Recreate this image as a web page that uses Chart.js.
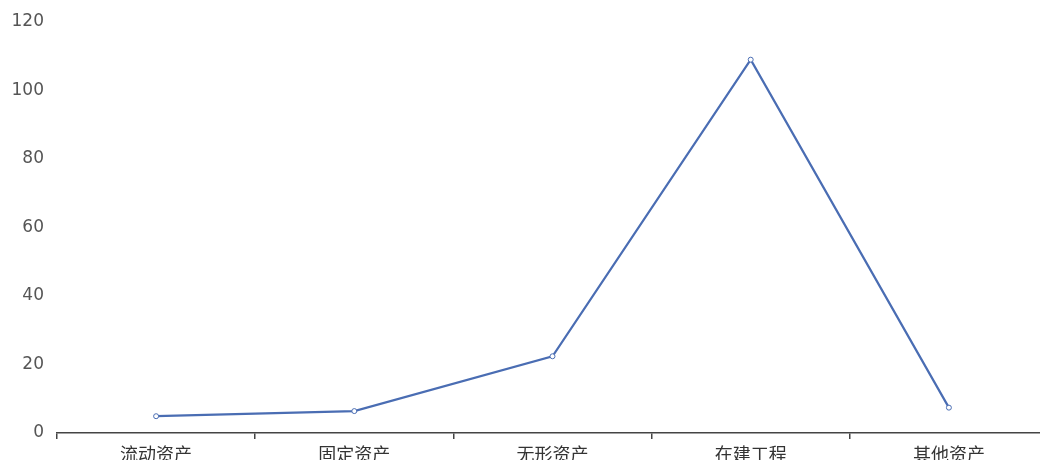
<!DOCTYPE html>
<html>
<head>
<meta charset="utf-8">
<script src="https://cdn.jsdelivr.net/npm/chart.js@4/dist/chart.umd.min.js"></script>
<style>
    html,body { margin: 0; padding: 0; background: #ffffff; overflow: hidden; }
</style>
</head>
<body>
<canvas id="lineChart" width="1053" height="480"></canvas>
<script>
// Chart data
const categories = ['流动资产','固定资产','无形资产','在建工程','其他资产'];
const values = [4.9,6.4,22.4,109,7.4];
const yTicks = [0,20,40,60,80,100,120];

document.addEventListener('DOMContentLoaded',() =>
{
    const ctx = document.getElementById('lineChart').getContext('2d');
    new Chart(ctx,{
        type: 'line',
        data: {
            labels: categories,
            datasets: [{
                data: values,
                borderColor: '#4a6db3',
                borderWidth: 2.2,
                pointRadius: 2.5,
                pointBorderWidth: 1,
                pointBackgroundColor: '#ffffff',
                pointBorderColor: '#4a6db3',
                tension: 0
            }]
        },
        options: {
            responsive: false,
            animation: false,
            layout: { padding: { top: 22, right: 1, left: 0, bottom: 0 } },
            plugins: {
                legend: { display: false },
                tooltip: { enabled: false }
            },
            scales: {
                x: {
                    offset: true,
                    grid: {
                        display: true,
                        offset: true,
                        drawOnChartArea: false,
                        drawTicks: true,
                        tickLength: 6,
                        color: '#444444',
                        lineWidth: 1.5
                    },
                    border: { display: true, color: '#444444', width: 1.5 },
                    ticks: {
                        color: '#333333',
                        padding: 4,
                        maxRotation: 0,
                        font: { family: '"Noto Sans CJK SC", sans-serif', size: 18 }
                    },
                    afterFit: (scale) => { scale.height = 47; }
                },
                y: {
                    min: 0,
                    max: 120,
                    afterBuildTicks: (scale) => { scale.ticks = yTicks.map(v => ({ value: v })); },
                    grid: { display: false },
                    border: { display: false },
                    ticks: {
                        color: '#555555',
                        padding: 5,
                        font: { family: '"DejaVu Sans", sans-serif', size: 17 }
                    },
                    afterFit: (scale) => { scale.width = 57; }
                }
            }
        }
    });
});
</script>
</body>
</html>
